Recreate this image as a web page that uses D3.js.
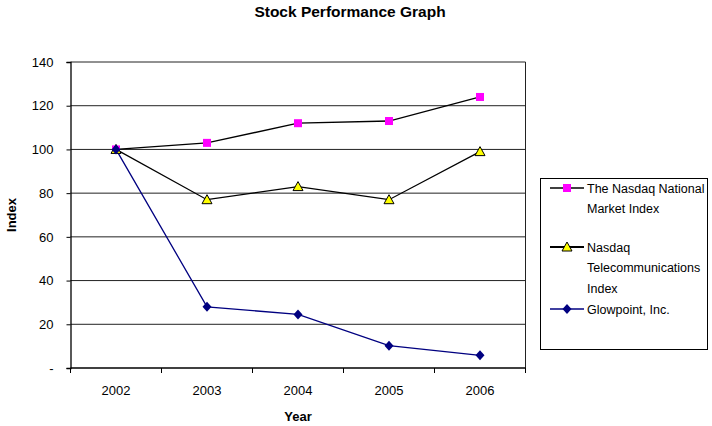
<!DOCTYPE html>
<html>
<head>
<meta charset="utf-8">
<script src="https://cdn.jsdelivr.net/npm/d3@7"></script>
<style>
  body { margin: 0; background: #fff; }
  text { font-family: "Liberation Sans", Arial, sans-serif; }
</style>
</head>
<body>
<div id="chart"></div>
<script>
// data
var years = ["2002", "2003", "2004", "2005", "2006"];
var nasdaqNational = [100, 103, 112, 113, 124];
var nasdaqTelecom = [100, 77, 83, 77, 99];
var glowpoint = [100, 28, 24.5, 10.2, 5.8];
var yTicks = [0, 20, 40, 60, 80, 100, 120, 140];

var svgWidth = 712, svgHeight = 426;
var plotLeft = 70.5, plotRight = 525.5, plotTop = 62, plotBottom = 368;

var svg = d3.select("#chart").append("svg")
  .attr("width", svgWidth)
  .attr("height", svgHeight);

var xScale = d3.scaleBand().domain(years).range([plotLeft, plotRight]);
var yScale = d3.scaleLinear().domain([0, 140]).range([plotBottom, plotTop]);

// title
svg.append("text")
  .attr("x", 350).attr("y", 17)
  .attr("text-anchor", "middle")
  .attr("font-size", 15.5).attr("font-weight", "bold")
  .text("Stock Performance Graph");

// gridlines
svg.append("g")
  .selectAll("line")
  .data(yTicks.filter(d => d > 0))
  .enter().append("line")
  .attr("x1", plotLeft).attr("x2", plotRight)
  .attr("y1", d => yScale(d)).attr("y2", d => yScale(d))
  .attr("stroke", "#222").attr("stroke-width", 1);

// right border of plot
svg.append("line")
  .attr("x1", plotRight).attr("x2", plotRight)
  .attr("y1", plotTop).attr("y2", plotBottom)
  .attr("stroke", "#222");

// left axis
var leftAxis = d3.axisLeft(yScale)
  .tickValues(yTicks)
  .tickSize(4)
  .tickFormat(d => d === 0 ? "-" : d);
var gy = svg.append("g")
  .attr("transform", "translate(" + plotLeft + ",0)")
  .call(leftAxis);
gy.select(".domain").attr("stroke", "#000").attr("stroke-width", 1.3);
gy.selectAll("text").attr("font-size", 13).attr("fill", "#000").attr("x", -17)
  .style("font-family", "Liberation Sans, Arial, sans-serif");

// bottom axis - ticks at category boundaries
var gx = svg.append("g")
  .attr("transform", "translate(0," + plotBottom + ")");
gx.append("line")
  .attr("x1", plotLeft).attr("x2", plotRight)
  .attr("stroke", "#000").attr("stroke-width", 1.3);
var bounds = years.map(d => xScale(d)).concat([plotRight]);
gx.selectAll(".tk").data(bounds).enter().append("line")
  .attr("class", "tk")
  .attr("x1", d => d).attr("x2", d => d)
  .attr("y1", 0).attr("y2", 5)
  .attr("stroke", "#000");
gx.selectAll(".lbl").data(years).enter().append("text")
  .attr("class", "lbl")
  .attr("x", d => xScale(d) + xScale.bandwidth() / 2)
  .attr("y", 27)
  .attr("text-anchor", "middle")
  .attr("font-size", 13)
  .text(d => d);

// axis titles
svg.append("text")
  .attr("x", 298).attr("y", 421)
  .attr("text-anchor", "middle")
  .attr("font-size", 13).attr("font-weight", "bold")
  .text("Year");
svg.append("text")
  .attr("transform", "translate(16,215)rotate(-90)")
  .attr("text-anchor", "middle")
  .attr("font-size", 13).attr("font-weight", "bold")
  .text("Index");

var cx = d => xScale(d) + xScale.bandwidth() / 2;
var line = d3.line()
  .x((d, i) => cx(years[i]))
  .y(d => yScale(d));

var series = [
  { name: "national", values: nasdaqNational, line: "#000", marker: "square", fill: "#ff00ff", stroke: "#ff00ff" },
  { name: "telecom", values: nasdaqTelecom, line: "#000", marker: "triangle", fill: "#ffff00", stroke: "#000" },
  { name: "glowpoint", values: glowpoint, line: "#000080", marker: "diamond", fill: "#000080", stroke: "#000080" }
];

function drawMarker(g, type, x, y, fill, stroke) {
  if (type === "square") {
    g.append("rect")
      .attr("x", x - 4).attr("y", y - 4)
      .attr("width", 8).attr("height", 8)
      .attr("fill", fill);
  } else if (type === "triangle") {
    g.append("path")
      .attr("d", "M" + x + "," + (y - 5) + "L" + (x + 5) + "," + (y + 4) + "L" + (x - 5) + "," + (y + 4) + "Z")
      .attr("fill", fill).attr("stroke", stroke).attr("stroke-width", 1);
  } else {
    g.append("path")
      .attr("d", "M" + x + "," + (y - 5) + "L" + (x + 4.5) + "," + y + "L" + x + "," + (y + 5) + "L" + (x - 4.5) + "," + y + "Z")
      .attr("fill", fill);
  }
}

series.forEach(function(s) {
  svg.append("path")
    .datum(s.values)
    .attr("d", line)
    .attr("fill", "none")
    .attr("stroke", s.line)
    .attr("stroke-width", 1.3);
});
series.forEach(function(s) {
  var g = svg.append("g");
  s.values.forEach(function(v, i) {
    drawMarker(g, s.marker, cx(years[i]), yScale(v), s.fill, s.stroke);
  });
});

// legend
var legend = svg.append("g");
legend.append("rect")
  .attr("x", 540.5).attr("y", 178.5)
  .attr("width", 167).attr("height", 171)
  .attr("fill", "#fff").attr("stroke", "#000");

var legendItems = [
  { s: series[0], y: 188, lines: ["The Nasdaq National", "Market Index"] },
  { s: series[1], y: 247, lines: ["Nasdaq", "Telecommunications", "Index"] },
  { s: series[2], y: 309, lines: ["Glowpoint, Inc."] }
];
legendItems.forEach(function(it) {
  legend.append("line")
    .attr("x1", 550).attr("x2", 584)
    .attr("y1", it.y).attr("y2", it.y)
    .attr("stroke", it.s.line).attr("stroke-width", it.s.name === "telecom" ? 2 : 1.3);
  drawMarker(legend, it.s.marker, 567, it.y, it.s.fill, it.s.stroke);
  it.lines.forEach(function(t, j) {
    legend.append("text")
      .attr("x", 587).attr("y", it.y + 4.5 + j * 20.5)
      .attr("font-size", 12.5)
      .text(t);
  });
});
</script>
</body>
</html>
